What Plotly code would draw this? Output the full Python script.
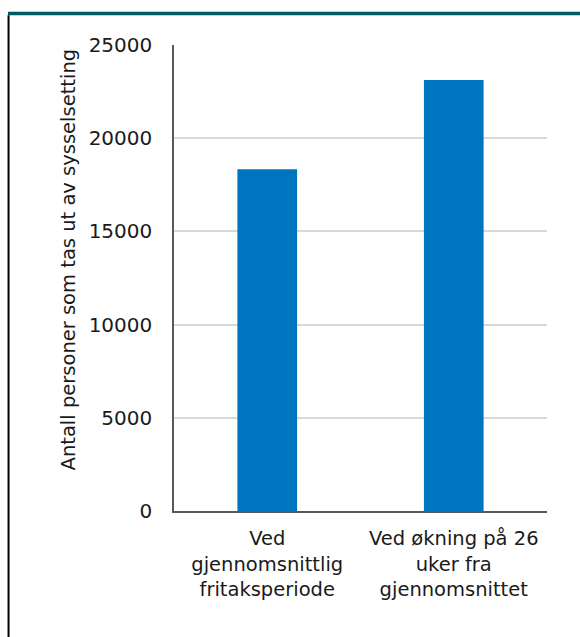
import plotly.graph_objects as go

# Data
categories = ["Ved<br>gjennomsnittlig<br>fritaksperiode",
              "Ved økning på 26<br>uker fra<br>gjennomsnittet"]
persons = [18330, 23120]
y_ticks = [0, 5000, 10000, 15000, 20000, 25000]
y_title = "Antall personer som tas ut av sysselsetting"

FONT = "'DejaVu Sans', sans-serif"

fig = go.Figure(
    go.Bar(
        x=categories,
        y=persons,
        marker=dict(color="#0075BF", line=dict(width=0)),
        width=0.32,
        hoverinfo="skip",
    )
)

fig.update_layout(
    width=580,
    height=637,
    margin=dict(l=174, r=33, t=45, b=126),
    paper_bgcolor="white",
    plot_bgcolor="white",
    showlegend=False,
    font=dict(family=FONT, size=20, color="#1a1a1a"),
    xaxis=dict(
        showline=True,
        linecolor="#595959",
        linewidth=1.5,
        ticks="",
        showgrid=False,
        tickfont=dict(size=19.5),
        ticklabelstandoff=9,
    ),
    yaxis=dict(
        range=[0, 25000],
        tickvals=y_ticks,
        tickformat="d",
        showline=True,
        linecolor="#595959",
        linewidth=1.5,
        showgrid=True,
        gridcolor="#d9d9d9",
        gridwidth=1.5,
        zeroline=False,
        ticks="",
        ticklabelstandoff=16,
        tickfont=dict(size=20),
    ),
    annotations=[
        # vertical axis title, sitting slightly above the plot's midline
        dict(text=y_title, textangle=-90, showarrow=False,
             xref="paper", yref="paper", x=-0.284, y=0.54,
             xanchor="center", yanchor="middle",
             font=dict(size=19.5)),
    ],
    shapes=[
        # teal header rule
        dict(type="line", xref="paper", yref="paper",
             x0=-0.445, x1=1.09, y0=1.0675, y1=1.0675,
             line=dict(color="#005A62", width=3.5)),
        # left frame border
        dict(type="line", xref="paper", yref="paper",
             x0=-0.4436, x1=-0.4436, y0=1.064, y1=-0.28,
             line=dict(color="black", width=2)),
    ],
)

fig.write_html("out.html")
